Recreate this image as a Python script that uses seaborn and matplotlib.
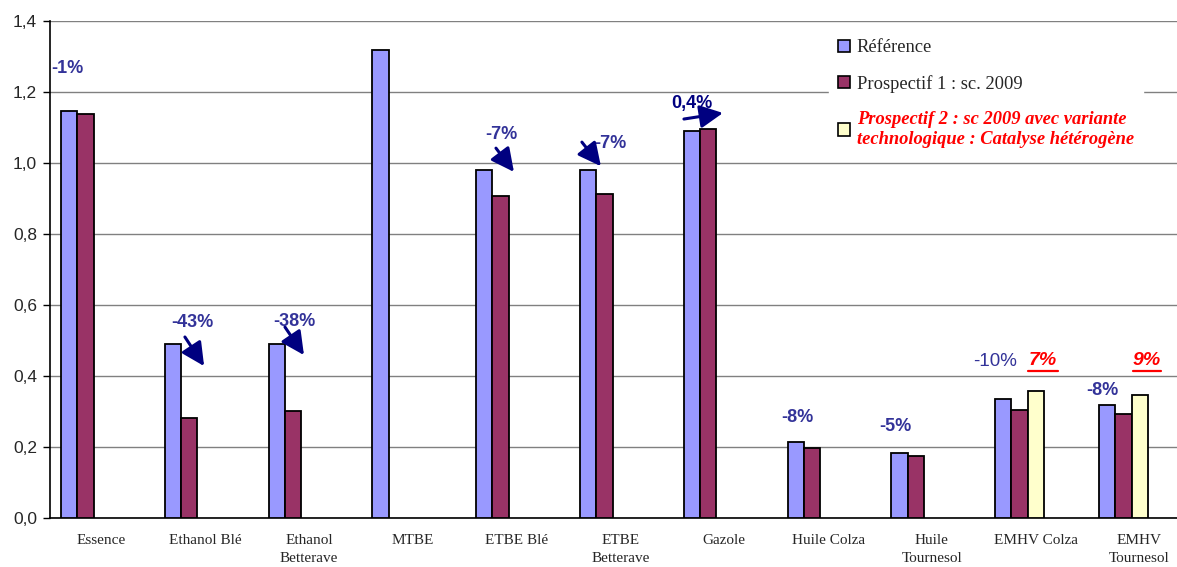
import matplotlib
matplotlib.use("Agg")
import matplotlib.pyplot as plt
from matplotlib.patches import Patch
import seaborn as sns
import numpy as np
import pandas as pd

categories = ["Essence", "Ethanol Blé", "Ethanol\nBetterave", "MTBE", "ETBE Blé",
              "ETBE\nBetterave", "Gazole", "Huile Colza", "Huile\nTournesol",
              "EMHV Colza", "EMHV\nTournesol"]
series = ["Référence", "Prospectif 1 : sc. 2009",
          "Prospectif 2 : sc 2009 avec variante\ntechnologique : Catalyse hétérogène"]
reference = [1.146, 0.489, 0.489, 1.317, 0.979, 0.979, 1.090, 0.214, 0.183, 0.334, 0.317]
prospectif1 = [1.138, 0.281, 0.301, np.nan, 0.905, 0.913, 1.095, 0.196, 0.174, 0.303, 0.291]
prospectif2 = [np.nan] * 9 + [0.357, 0.346]
colors = ["#9999FF", "#993366", "#FFFFCC"]
yticks = [0.0, 0.2, 0.4, 0.6, 0.8, 1.0, 1.2, 1.4]

rows = []
for s, vals in zip(series, [reference, prospectif1, prospectif2]):
    for c, v in zip(categories, vals):
        rows.append({"cat": c, "series": s, "value": v})
df = pd.DataFrame(rows)

sns.set_style("white")
plt.rcParams["font.family"] = ["Liberation Sans", "DejaVu Sans"]

fig = plt.figure(figsize=(11.77, 5.67), dpi=100)
ax = fig.add_axes([0.0422, 0.087, 0.970, 0.8765])

sns.barplot(data=df, x="cat", y="value", hue="series", order=categories,
            hue_order=series, palette=colors, saturation=1, width=0.471, dodge=True,
            edgecolor="black", linewidth=1.3, errorbar=None, legend=False,
            ax=ax, zorder=3)

ax.set_xlim(-0.345, len(categories) - 0.345)
ax.set_ylim(0, 1.4)
ax.set_yticks(yticks)
ax.set_yticklabels([f"{t:.1f}".replace(".", ",") for t in yticks], fontsize=12.5)
ax.yaxis.grid(True, color="#808080", linewidth=1.0, zorder=0)
ax.set_axisbelow(True)

xpos = np.arange(len(categories))
ax.set_xticks(xpos + 0.155)
ax.set_xticklabels(categories, fontsize=11, family="Liberation Serif",
                   linespacing=1.45, va="top")
ax.set_xticks(np.arange(len(categories) + 1) - 0.345, minor=True)
ax.tick_params(axis="x", which="major", length=0, pad=12)
ax.tick_params(axis="x", which="minor", length=5, width=1, color="black", direction="out")
ax.tick_params(axis="y", which="major", length=5, width=1, color="black", direction="out",
               left=True, pad=4)
ax.set_xlabel("")
ax.set_ylabel("")
for sp in ["top", "right"]:
    ax.spines[sp].set_visible(False)
for sp in ["left", "bottom"]:
    ax.spines[sp].set_color("black")
    ax.spines[sp].set_linewidth(1.2)

blue = "#333399"
navy = "#000080"
ann_kw = dict(fontsize=13, fontweight="bold", ha="center", va="center", zorder=5)
ax.text(-0.178, 1.266, "-1%", color=blue, **ann_kw)
ax.text(1.026, 0.551, "-43%", color=blue, **ann_kw)
ax.text(2.009, 0.554, "-38%", color=blue, **ann_kw)
ax.text(4.003, 1.078, "-7%", color=blue, **ann_kw)
ax.text(5.053, 1.055, "-7%", color=blue, **ann_kw)
ax.text(5.843, 1.168, "0,4%", color=navy, **ann_kw)
ax.text(6.856, 0.281, "-8%", color=blue, **ann_kw)
ax.text(7.800, 0.258, "-5%", color=blue, **ann_kw)
ax.text(8.763, 0.441, "-10%", color=blue, fontsize=13.5, ha="center", va="center", zorder=5)
ax.text(9.793, 0.357, "-8%", color=blue, **ann_kw)

red_kw = dict(fontsize=14, fontweight="bold", style="italic", color="red",
              ha="center", va="center", zorder=5)
ax.text(9.225, 0.443, "7%", **red_kw)
ax.text(10.227, 0.443, "9%", **red_kw)
ax.plot([9.085, 9.37], [0.413, 0.413], color="red", lw=1.6, zorder=5, clip_on=False)
ax.plot([10.092, 10.362], [0.413, 0.413], color="red", lw=1.6, zorder=5, clip_on=False)

arrows = [((0.958, 0.509), (1.143, 0.427)),
          ((1.922, 0.537), (2.105, 0.458)),
          ((3.955, 1.041), (4.128, 0.974)),
          ((4.783, 1.058), (4.966, 0.990)),
          ((5.766, 1.123), (6.142, 1.140))]
for tail, tip in arrows:
    ax.annotate("", xy=tip, xytext=tail, zorder=5,
                arrowprops=dict(arrowstyle="-|>,head_length=1.0,head_width=0.5",
                                color=navy, lw=2.2, shrinkA=0, shrinkB=0,
                                mutation_scale=14))

handles = [Patch(facecolor=c, edgecolor="black", linewidth=1.2) for c in colors]
leg = ax.legend(handles, series, loc="upper left", bbox_to_anchor=(829 / 1177, 1 - 30 / 567),
                bbox_transform=fig.transFigure, frameon=True, facecolor="white",
                edgecolor="white", framealpha=1, fancybox=False,
                prop={"family": "Liberation Serif", "size": 13.3},
                handlelength=0.65, handleheight=0.65, handletextpad=0.35,
                labelspacing=1.0, borderpad=0.5, borderaxespad=0)
leg.set_zorder(10)
t3 = leg.get_texts()[2]
t3.set_color("red")
t3.set_fontweight("bold")
t3.set_fontstyle("italic")

fig.savefig("out.png", dpi=100)
